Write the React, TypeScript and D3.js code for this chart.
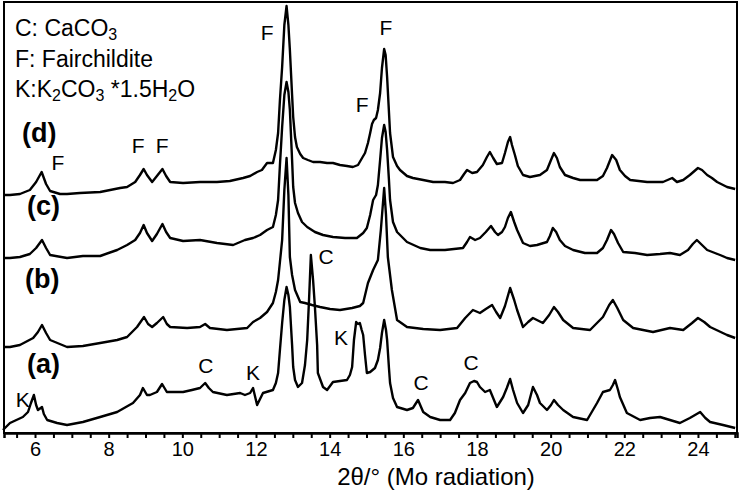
import React, { useEffect, useRef } from 'react';
import * as d3 from 'd3';

// [2θ, intensity (a.u., stacked offset included)]
const traceA: [number, number][] = [
  [5.13, 3], [5.32, 10], [5.67, 16], [5.81, 21], [5.89, 30], [5.97, 38], [6.03, 28], [6.08, 23],
  [6.19, 26], [6.24, 19], [6.33, 13], [6.6, 10], [6.87, 8], [7.3, 11], [7.77, 16], [8.23, 21],
  [8.66, 30], [8.85, 38], [8.93, 45], [9.04, 38], [9.12, 38], [9.31, 41], [9.45, 49], [9.58, 41],
  [9.8, 41], [10.02, 41], [10.26, 43], [10.48, 45], [10.62, 50], [10.72, 45], [10.83, 41],
  [11.21, 38], [11.57, 40], [11.7, 38], [11.84, 40], [11.92, 45], [12.03, 28], [12.19, 40],
  [12.46, 43], [12.54, 50], [12.6, 60], [12.65, 83], [12.71, 110], [12.77, 133], [12.83, 146],
  [12.88, 138], [12.92, 126], [12.98, 88], [13.01, 66], [13.06, 53], [13.14, 46], [13.25, 50],
  [13.33, 68], [13.39, 93], [13.44, 133], [13.49, 178], [13.55, 153], [13.6, 126], [13.66, 88],
  [13.68, 60], [13.82, 46], [13.93, 43], [14.09, 51], [14.28, 52], [14.47, 53], [14.55, 58],
  [14.61, 66], [14.66, 93], [14.72, 111], [14.77, 109], [14.82, 110], [14.87, 103], [14.91, 98],
  [14.96, 78], [15.01, 60], [15.1, 61], [15.23, 65], [15.31, 73], [15.37, 85], [15.42, 100],
  [15.48, 113], [15.53, 103], [15.56, 93], [15.61, 65], [15.64, 50], [15.72, 35], [15.83, 26],
  [16.1, 23], [16.26, 25], [16.4, 33], [16.54, 21], [16.73, 16], [17.0, 13], [17.27, 13],
  [17.4, 20], [17.54, 33], [17.68, 40], [17.81, 50], [17.92, 52], [18.0, 51], [18.08, 46],
  [18.22, 41], [18.35, 43], [18.54, 26], [18.71, 36], [18.81, 45], [18.9, 54], [18.98, 43],
  [19.09, 30], [19.25, 20], [19.39, 28], [19.52, 46], [19.63, 38], [19.71, 30], [19.9, 23],
  [20.01, 28], [20.09, 33], [20.2, 28], [20.34, 23], [20.61, 16], [20.99, 13], [21.26, 30],
  [21.42, 41], [21.61, 43], [21.69, 48], [21.75, 53], [21.83, 43], [21.88, 36], [22.07, 20],
  [22.43, 13], [22.7, 15], [22.97, 16], [23.24, 13], [23.51, 10], [23.78, 15], [24.06, 21],
  [24.2, 15], [24.33, 11], [24.68, 8], [25.01, 5]
];

const traceB: [number, number][] = [
  [5.16, 86], [5.32, 86], [5.59, 88], [5.95, 95], [6.08, 101], [6.19, 108], [6.3, 100], [6.41, 93],
  [6.87, 86], [7.3, 87], [7.77, 90], [8.23, 93], [8.5, 96], [8.77, 106], [8.96, 116], [9.07, 109],
  [9.18, 106], [9.31, 110], [9.48, 116], [9.58, 109], [9.67, 106], [10.13, 105], [10.48, 106],
  [10.62, 109], [10.75, 105], [11.21, 103], [11.76, 105], [11.92, 111], [12.11, 115], [12.3, 121],
  [12.46, 130], [12.54, 141], [12.6, 153], [12.65, 171], [12.71, 193], [12.77, 243], [12.83, 275],
  [12.88, 238], [12.92, 176], [12.98, 158], [13.06, 143], [13.2, 131], [13.33, 130], [13.52, 128],
  [13.74, 126], [14.01, 124], [14.28, 123], [14.61, 125], [14.82, 127], [14.91, 130], [15.04, 150],
  [15.18, 163], [15.31, 173], [15.39, 203], [15.48, 245], [15.53, 218], [15.58, 176], [15.69, 143],
  [15.83, 113], [16.1, 106], [16.54, 104], [17.0, 103], [17.46, 105], [17.68, 115], [17.89, 123],
  [18.08, 120], [18.24, 124], [18.41, 128], [18.52, 121], [18.63, 115], [18.76, 127], [18.9, 145],
  [19.01, 133], [19.09, 123], [19.25, 106], [19.39, 111], [19.52, 115], [19.79, 110], [19.96, 118],
  [20.09, 126], [20.2, 121], [20.34, 113], [20.61, 105], [21.07, 103], [21.42, 116], [21.59, 128],
  [21.69, 133], [21.81, 125], [21.97, 113], [22.24, 105], [22.78, 101], [23.24, 105], [23.6, 103],
  [23.84, 110], [24.0, 115], [24.17, 111], [24.33, 106], [24.79, 98], [25.01, 95]
];

const traceC: [number, number][] = [
  [5.16, 175], [5.32, 175], [5.59, 176], [5.86, 179], [6.03, 185], [6.19, 193], [6.3, 185],
  [6.41, 178], [6.87, 175], [7.3, 177], [7.77, 177], [8.23, 183], [8.5, 188], [8.72, 193],
  [8.85, 200], [8.95, 208], [9.04, 200], [9.18, 192], [9.31, 199], [9.46, 209], [9.56, 201],
  [9.67, 195], [10.02, 192], [10.48, 193], [10.94, 190], [11.38, 188], [11.7, 193], [11.92, 195],
  [12.11, 198], [12.3, 203], [12.46, 206], [12.54, 218], [12.6, 233], [12.65, 268], [12.71, 306],
  [12.77, 338], [12.83, 351], [12.88, 341], [12.92, 323], [12.98, 273], [13.01, 246], [13.06, 230],
  [13.14, 220], [13.25, 211], [13.39, 206], [13.6, 201], [13.82, 198], [14.09, 196], [14.42, 195],
  [14.74, 195], [14.91, 200], [15.01, 205], [15.1, 218], [15.18, 233], [15.26, 238], [15.31, 248],
  [15.37, 273], [15.42, 295], [15.48, 308], [15.52, 301], [15.56, 283], [15.61, 253], [15.64, 233],
  [15.72, 211], [15.83, 201], [16.1, 191], [16.46, 185], [16.73, 183], [17.13, 183], [17.62, 185],
  [17.73, 191], [17.81, 196], [17.95, 193], [18.08, 195], [18.24, 201], [18.38, 207], [18.49, 201],
  [18.57, 198], [18.68, 201], [18.76, 206], [18.84, 215], [18.92, 221], [19.01, 211], [19.09, 203],
  [19.25, 190], [19.44, 187], [19.63, 188], [19.9, 191], [19.98, 197], [20.06, 205], [20.15, 201],
  [20.25, 193], [20.39, 187], [20.61, 183], [20.93, 180], [21.26, 180], [21.42, 185], [21.53, 193],
  [21.64, 203], [21.72, 199], [21.83, 190], [21.97, 181], [22.29, 180], [22.62, 178], [22.97, 179],
  [23.24, 180], [23.51, 178], [23.73, 183], [23.86, 189], [23.97, 193], [24.11, 188], [24.25, 183],
  [24.46, 180], [24.6, 178], [24.79, 175], [25.01, 173]
];

const traceD: [number, number][] = [
  [5.16, 238], [5.32, 238], [5.59, 239], [5.86, 243], [6.03, 251], [6.18, 261], [6.3, 249],
  [6.41, 242], [6.68, 239], [6.87, 239], [7.22, 240], [7.77, 241], [8.04, 243], [8.31, 245],
  [8.5, 246], [8.72, 251], [8.85, 258], [8.95, 264], [9.04, 258], [9.18, 251], [9.31, 257],
  [9.46, 264], [9.56, 257], [9.67, 251], [10.02, 250], [10.48, 251], [10.94, 251], [11.29, 252],
  [11.65, 255], [11.84, 257], [12.03, 261], [12.16, 263], [12.3, 270], [12.46, 270], [12.54, 283],
  [12.6, 300], [12.65, 333], [12.71, 366], [12.77, 408], [12.83, 427], [12.88, 408], [12.92, 383],
  [12.98, 338], [13.01, 316], [13.06, 296], [13.11, 286], [13.2, 279], [13.28, 275], [13.41, 273],
  [13.55, 271], [13.74, 271], [13.93, 270], [14.09, 270], [14.28, 268], [14.47, 267], [14.63, 266],
  [14.77, 268], [14.88, 275], [14.96, 280], [15.04, 290], [15.1, 300], [15.15, 309], [15.2, 313],
  [15.26, 315], [15.31, 323], [15.37, 340], [15.42, 365], [15.48, 384], [15.52, 378], [15.56, 356],
  [15.6, 328], [15.64, 300], [15.72, 276], [15.83, 267], [15.91, 263], [16.1, 257], [16.26, 255],
  [16.54, 253], [16.81, 251], [17.13, 251], [17.35, 250], [17.54, 253], [17.65, 259], [17.73, 263],
  [17.87, 260], [18.0, 261], [18.16, 268], [18.27, 276], [18.35, 281], [18.44, 275], [18.54, 269],
  [18.68, 270], [18.76, 280], [18.84, 291], [18.9, 296], [18.95, 288], [19.03, 278], [19.11, 267],
  [19.25, 258], [19.44, 256], [19.71, 258], [19.9, 263], [20.01, 273], [20.09, 280], [20.17, 275],
  [20.25, 266], [20.39, 258], [20.61, 255], [20.8, 253], [21.26, 253], [21.42, 257], [21.53, 265],
  [21.67, 278], [21.78, 273], [21.88, 263], [22.02, 257], [22.16, 253], [22.62, 251], [23.05, 251],
  [23.3, 255], [23.43, 251], [23.6, 253], [23.78, 258], [24.0, 265], [24.11, 263], [24.25, 258],
  [24.38, 255], [24.52, 251], [24.79, 246], [25.01, 244]
];

const series = [traceA, traceB, traceC, traceD];

const xTicks = [6, 8, 10, 12, 14, 16, 18, 20, 22, 24];

const sampleLabels = [
  { text: '(d)', x: 5.65, y: 291 },
  { text: '(c)', x: 5.78, y: 218 },
  { text: '(b)', x: 5.73, y: 145 },
  { text: '(a)', x: 5.78, y: 60 }
];

const peakLabels = [
  { text: 'F', x: 12.3, y: 393 },
  { text: 'F', x: 15.53, y: 398 },
  { text: 'F', x: 14.88, y: 321 },
  { text: 'F', x: 6.62, y: 263 },
  { text: 'F', x: 8.8, y: 280 },
  { text: 'F', x: 9.45, y: 280 },
  { text: 'C', x: 13.9, y: 169 },
  { text: 'K', x: 14.31, y: 88 },
  { text: 'K', x: 11.92, y: 53 },
  { text: 'C', x: 16.48, y: 43 },
  { text: 'C', x: 17.84, y: 63 },
  { text: 'C', x: 10.64, y: 60 },
  { text: 'K', x: 5.67, y: 26 }
];

// legend rows: [text, isSubscript]
const legendRows: [string, boolean][][] = [
  [['C: CaCO', false], ['3', true]],
  [['F: Fairchildite', false]],
  [['K:K', false], ['2', true], ['CO', false], ['3', true], [' *1.5H', false], ['2', true], ['O', false]]
];

const FONT = '"Liberation Sans", Arial, Helvetica, sans-serif';

const App = () => {
  const ref = useRef<SVGSVGElement>(null);

  useEffect(() => {
    const svg = d3.select(ref.current);
    svg.selectAll('*').remove();

    const left = 4, right = 737, top = 2, bottom = 433;
    const x = d3.scaleLinear().domain([5.158, 25.06]).range([left, right]);
    const y = d3.scaleLinear().domain([0, 431]).range([bottom, top]);

    svg.append('rect').attr('width', 740).attr('height', 494).attr('fill', '#fff');

    const line = d3
      .line<[number, number]>()
      .x((d) => x(d[0]))
      .y((d) => y(d[1]));

    svg
      .selectAll('path.trace')
      .data(series)
      .enter()
      .append('path')
      .attr('class', 'trace')
      .attr('d', (d) => line(d))
      .attr('fill', 'none')
      .attr('stroke', '#000')
      .attr('stroke-width', 2.4)
      .attr('stroke-linejoin', 'round');

    // frame
    svg
      .append('rect')
      .attr('x', left)
      .attr('y', top)
      .attr('width', right - left)
      .attr('height', bottom - top)
      .attr('fill', 'none')
      .attr('stroke', '#000')
      .attr('stroke-width', 2);

    const axis = svg
      .append('g')
      .attr('transform', `translate(0,${bottom})`)
      .call(
        d3
          .axisBottom(x)
          .tickValues(d3.range(5.5, 25.01, 0.5))
          .tickSize(5)
          .tickPadding(4)
          .tickFormat((d) => (xTicks.includes(+d) ? String(d) : ''))
      );
    axis.select('.domain').attr('stroke-width', 2.5);
    axis.selectAll('line').attr('stroke-width', 2);
    axis.selectAll('text').attr('font-family', FONT).attr('font-size', 20).attr('fill', '#000');

    svg
      .append('text')
      .attr('x', 436)
      .attr('y', 485)
      .attr('text-anchor', 'middle')
      .attr('font-family', FONT)
      .attr('font-size', 24)
      .text('2θ/° (Mo radiation)');

    svg
      .selectAll('text.sample')
      .data(sampleLabels)
      .enter()
      .append('text')
      .attr('class', 'sample')
      .attr('x', (d) => x(d.x))
      .attr('y', (d) => y(d.y))
      .attr('font-family', FONT)
      .attr('font-weight', 700)
      .attr('font-size', 27)
      .text((d) => d.text);

    svg
      .selectAll('text.peak')
      .data(peakLabels)
      .enter()
      .append('text')
      .attr('class', 'peak')
      .attr('x', (d) => x(d.x))
      .attr('y', (d) => y(d.y))
      .attr('text-anchor', 'middle')
      .attr('font-family', FONT)
      .attr('font-size', 21)
      .text((d) => d.text);

    const legend = svg.append('g').attr('font-family', FONT).attr('font-size', 23);
    legendRows.forEach((row, i) => {
      const t = legend
        .append('text')
        .attr('x', 15)
        .attr('y', 36 + i * 30.5);
      row.forEach(([s, sub]) => {
        t.append('tspan')
          .attr('font-size', sub ? 16 : 23)
          .attr('baseline-shift', sub ? '-25%' : null)
          .text(s);
      });
    });
  }, []);

  return (
    <svg
      ref={ref}
      width={740}
      height={494}
      style={{ position: 'absolute', left: 0, top: 0, display: 'block' }}
    />
  );
};

export default App;
